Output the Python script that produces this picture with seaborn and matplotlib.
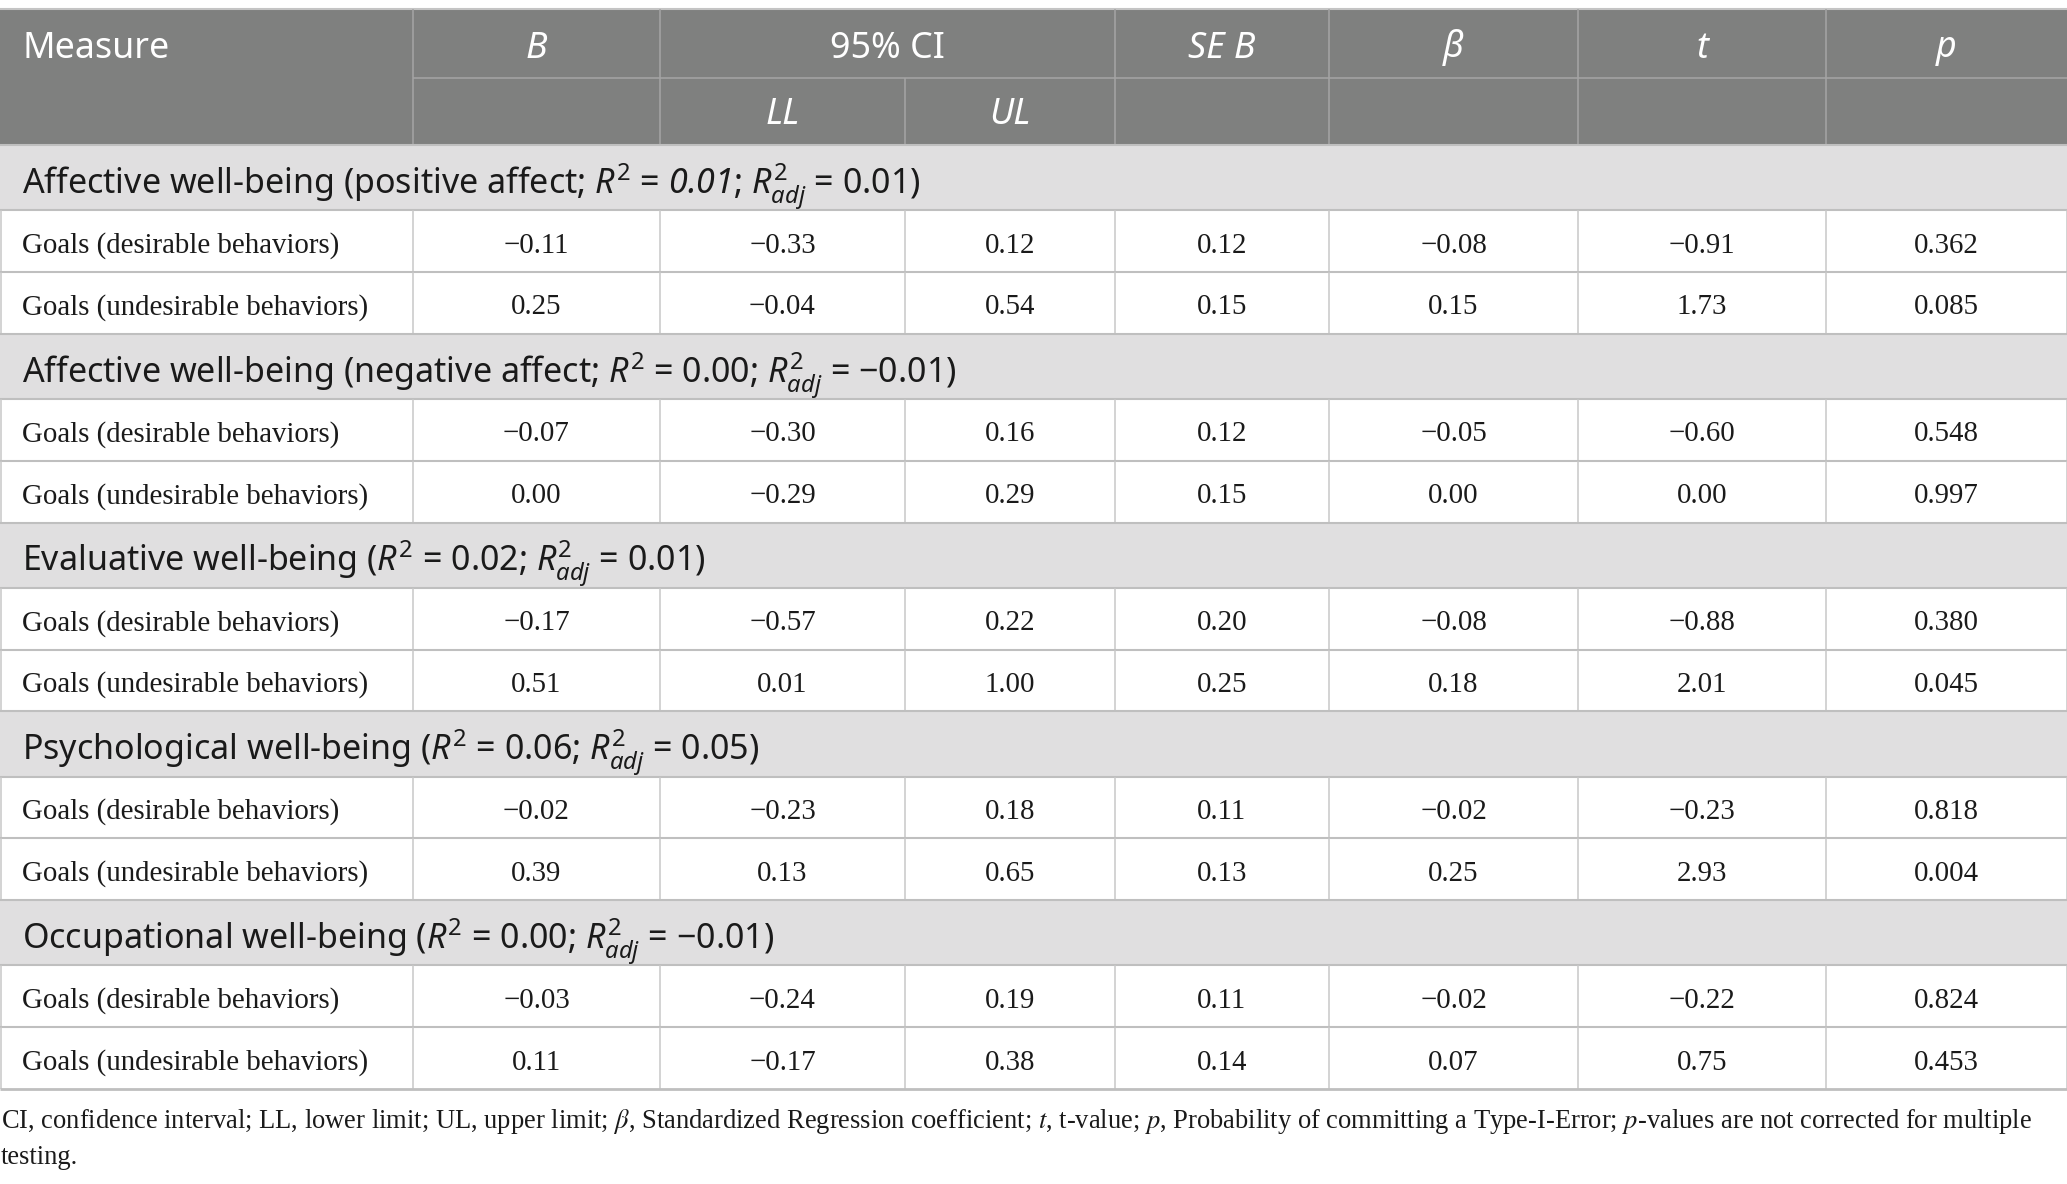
import numpy as np
import pandas as pd
import matplotlib.pyplot as plt
import seaborn as sns

sns.set_theme(style="white")
plt.rcParams["font.family"] = ["Noto Sans", "DejaVu Sans"]
plt.rcParams["mathtext.fontset"] = "custom"
plt.rcParams["mathtext.rm"] = "Noto Sans"
plt.rcParams["mathtext.it"] = "Noto Sans:italic"
plt.rcParams["mathtext.sf"] = "Noto Sans:italic"   # used for italic digits
plt.rcParams["mathtext.bf"] = "Noto Sans:bold"

# table content
sections = [
    r"Affective well-being (positive affect; $R^2$ = $\mathsf{0.01}$; $R^2_{adj}$ = 0.01)",
    r"Affective well-being (negative affect; $R^2$ = 0.00; $R^2_{adj}$ = −0.01)",
    r"Evaluative well-being ($R^2$ = 0.02; $R^2_{adj}$ = 0.01)",
    r"Psychological well-being ($R^2$ = 0.06; $R^2_{adj}$ = 0.05)",
    r"Occupational well-being ($R^2$ = 0.00; $R^2_{adj}$ = −0.01)",
]
predictors = ["Goals (desirable behaviors)", "Goals (undesirable behaviors)"]

B    = [-0.11, 0.25, -0.07, 0.00, -0.17, 0.51, -0.02, 0.39, -0.03, 0.11]
LL   = [-0.33, -0.04, -0.30, -0.29, -0.57, 0.01, -0.23, 0.13, -0.24, -0.17]
UL   = [0.12, 0.54, 0.16, 0.29, 0.22, 1.00, 0.18, 0.65, 0.19, 0.38]
SE_B = [0.12, 0.15, 0.12, 0.15, 0.20, 0.25, 0.11, 0.13, 0.11, 0.14]
beta = [-0.08, 0.15, -0.05, 0.00, -0.08, 0.18, -0.02, 0.25, -0.02, 0.07]
t    = [-0.91, 1.73, -0.60, 0.00, -0.88, 2.01, -0.23, 2.93, -0.22, 0.75]
p    = [0.362, 0.085, 0.548, 0.997, 0.380, 0.045, 0.818, 0.004, 0.824, 0.453]

df = pd.DataFrame({"B": B, "LL": LL, "UL": UL, "SE B": SE_B,
                   "beta": beta, "t": t, "p": p})


def fmt(v, nd=2):
    s = f"{abs(v):.{nd}f}"
    return ("−" + s) if v < 0 else s


# layout (pixels)
W, H = 2067, 1184
col_edges = [0, 413, 660, 905, 1115, 1329, 1578, 1826, 2067]
top, mid, hbot = 9, 78, 145
sec_h, row_h = 65.2, 61.8

fig = plt.figure(figsize=(W / 100, H / 100), dpi=100)
ax = fig.add_axes([0, 0, 1, 1])
ax.set_xlim(0, W)
ax.set_ylim(H, 0)
ax.axis("off")

hdr_bg = "#7f807f"
sec_bg = "#e0dfe0"
grid_c = "#bfbfbf"
hdr_line = "#a5a5a5"
ink = "#1a1a1a"

# header
ax.add_patch(plt.Rectangle((0, top), W, hbot - top, color=hdr_bg, lw=0))
ax.hlines(top, 0, W, color="#c4c4c4", lw=1.5)
ax.hlines(mid, col_edges[1], W, color=hdr_line, lw=1.1)
for i, x in enumerate(col_edges[1:-1], start=1):
    y0 = mid if i == 3 else top
    ax.vlines(x, y0, hbot, color=hdr_line, lw=1.1)

cx = [(col_edges[i] + col_edges[i + 1]) / 2 for i in range(len(col_edges) - 1)]
hsize = 25.8
hb1, hb2 = 57.5, 124.5
ax.text(22, hb1, "Measure", color="white", fontsize=hsize, va="baseline", ha="left")
ax.text(cx[1], hb1, "B", color="white", fontsize=hsize, va="baseline", ha="center", style="italic")
ax.text((col_edges[2] + col_edges[4]) / 2, hb1, "95% CI", color="white", fontsize=hsize,
        va="baseline", ha="center")
ax.text(cx[2], hb2, "LL", color="white", fontsize=hsize, va="baseline", ha="center", style="italic")
ax.text(cx[3], hb2, "UL", color="white", fontsize=hsize, va="baseline", ha="center", style="italic")
for j, lab in zip(range(4, 8), ["SE B", "β", "t", "p"]):
    ax.text(cx[j], hb1, lab, color="white", fontsize=hsize, va="baseline", ha="center", style="italic")

# body
serif = ["Liberation Serif", "DejaVu Serif"]
dsize = 20.8
y = hbot
k = 0
for s_title in sections:
    ax.add_patch(plt.Rectangle((0, y), W, sec_h, color=sec_bg, lw=0))
    ax.text(22, y + 49.3, s_title, fontsize=24.5, va="baseline", ha="left", color=ink)
    ax.hlines(y, 0, W, color=grid_c, lw=1.5)
    y += sec_h
    for pred in predictors:
        ax.hlines(y, 0, W, color=grid_c, lw=1.5)
        ax.vlines(col_edges[1:-1], y, y + row_h, color="#c8c8c8", lw=1.1)
        ax.vlines([0.5, W - 0.5], y, y + row_h, color="#c8c8c8", lw=1.1)
        yb = y + row_h / 2 + 11.5
        ax.text(22, yb, pred, fontsize=dsize, va="baseline", ha="left", family=serif, color=ink)
        r = df.iloc[k]
        vals = [fmt(r["B"]), fmt(r["LL"]), fmt(r["UL"]), fmt(r["SE B"]),
                fmt(r["beta"]), fmt(r["t"]), fmt(r["p"], 3)]
        for j, v in enumerate(vals, start=1):
            ax.text(cx[j], yb, v, fontsize=dsize, va="baseline", ha="center", family=serif, color=ink)
        k += 1
        y += row_h
ax.hlines(y, 0, W, color=grid_c, lw=2)

# footnote
note1 = (r"CI, confidence interval; LL, lower limit; UL, upper limit; $\beta$, Standardized Regression "
         r"coefficient; $t$, t-value; $p$, Probability of committing a Type-I-Error; $p$-values are not "
         r"corrected for multiple")
ax.text(1, 1121, note1, fontsize=19.1, va="center", ha="left", family=serif,
        math_fontfamily="stix", color=ink)
ax.text(1, 1158, "testing.", fontsize=19.1, va="center", ha="left", family=serif, color=ink)

fig.savefig("out.png", dpi=100)
